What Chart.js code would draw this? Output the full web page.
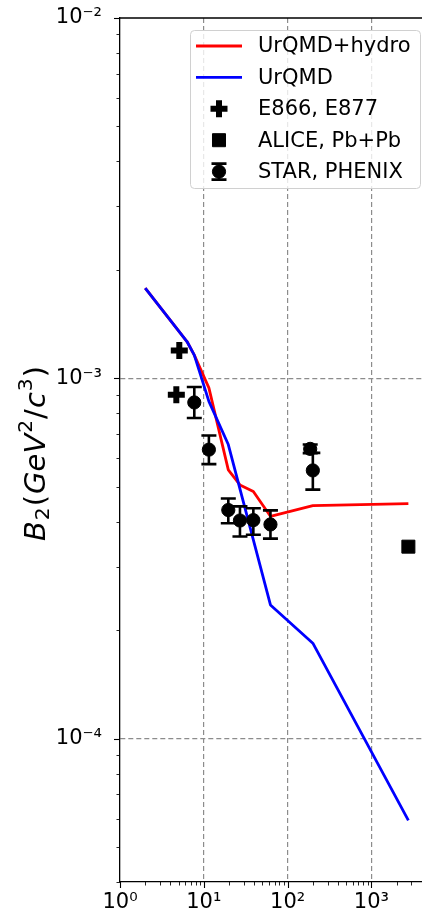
<!DOCTYPE html>
<html>
<head>
<meta charset="utf-8">
<title>B2 vs collision energy</title>
<script src="https://cdn.jsdelivr.net/npm/chart.js@4.4.1/dist/chart.umd.min.js"></script>
<style>
  html, body { margin: 0; padding: 0; background: #fff; overflow: hidden; }
  #wrap { position: relative; width: 422px; height: 918px; overflow: hidden; }
  #wrap canvas { position: absolute; left: 0; top: 0; }
</style>
</head>
<body>
<div id="wrap"><canvas id="chart" width="432" height="918"></canvas></div>
<script>
// collision energy sqrt(s_NN) in GeV, B2 in GeV^2/c^3
const hydroEnergy = [2, 6.3, 7.7, 11.5, 19.6, 27, 39, 62.4, 200, 2760]
const hydroB2 = [1.78e-3, 1.265e-3, 1.16e-3, 9.41e-4, 5.57e-4, 5.06e-4, 4.85e-4, 4.14e-4, 4.43e-4, 4.49e-4]

const urqmdEnergy = [2, 6.3, 7.7, 11.5, 19.6, 62.4, 200, 2760]
const urqmdB2 = [1.78e-3, 1.265e-3, 1.16e-3, 8.63e-4, 6.55e-4, 2.35e-4, 1.84e-4, 5.93e-5]

const agsEnergy = [5.1, 4.7]
const agsB2 = [1.194e-3, 9.0e-4]

const aliceEnergy = [2760]
const aliceB2 = [3.41e-4]

const rhicEnergy = [7.7, 11.5, 19.6, 27, 39, 62.4, 186, 200]
const rhicB2 = [8.57e-4, 6.34e-4, 4.31e-4, 4.03e-4, 4.04e-4, 3.93e-4, 6.37e-4, 5.55e-4]
const rhicLow = [7.76e-4, 5.78e-4, 3.96e-4, 3.64e-4, 3.68e-4, 3.59e-4, 6.2e-4, 4.91e-4]
const rhicHigh = [9.46e-4, 6.94e-4, 4.64e-4, 4.41e-4, 4.36e-4, 4.30e-4, 6.55e-4, 6.21e-4]

const xMajor = [1, 10, 100, 1000]
const xMajorLabels = ["10⁰", "10¹", "10²", "10³"]
const yMajor = [1e-4, 1e-3, 1e-2]
const yMajorLabels = ["10⁻⁴", "10⁻³", "10⁻²"]

const seriesLabels = ["UrQMD+hydro", "UrQMD", "E866, E877", "ALICE, Pb+Pb", "STAR, PHENIX"]

// y axis title: [text, style]  i = italic, n = upright, sub/sup = scripts
const yTitleParts = [["B", "i"], ["2", "sub"], ["(", "n"], ["GeV", "i"], ["2", "sup"], ["/", "n"], ["c", "i"], ["3", "sup"], [")", "n"]]

const X_MIN = 1, X_MAX = 5000, Y_MIN = 4e-5, Y_MAX = 1e-2
const FONT = "'DejaVu Sans', sans-serif"

function pts(xs, ys) {
  return xs.map((x, i) => ({ x, y: ys[i] }))
}

// majors plus 2..9 minors inside the limits
function logTicks(majors, min, max) {
  const out = []
  const decades = [majors[0] / 10, ...majors]
  decades.forEach((d) => {
    for (let k = 1; k <= 9; k++) {
      const v = k === 1 ? d : k * d
      if (v >= min * 0.999 && v <= max * 1.001) out.push(v)
    }
  })
  return out.sort((a, b) => a - b)
}

function isMajor(list, v) {
  return list.some((m) => Math.abs(v / m - 1) < 1e-9)
}

function drawErrorBar(ctx, xs, ys, x, lo, hi, cap) {
  const px = xs.getPixelForValue(x)
  const p1 = ys.getPixelForValue(lo)
  const p2 = ys.getPixelForValue(hi)
  ctx.beginPath()
  ctx.moveTo(px, p1); ctx.lineTo(px, p2)
  ctx.moveTo(px - cap, p1); ctx.lineTo(px + cap, p1)
  ctx.moveTo(px - cap, p2); ctx.lineTo(px + cap, p2)
  ctx.stroke()
}

const errorBars = {
  id: "errorBars",
  beforeDatasetDraw(chart, args) {
    if (args.meta.label !== seriesLabels[4]) return
    const ctx = chart.ctx
    ctx.save()
    ctx.strokeStyle = "#000"
    ctx.lineWidth = 2.6
    rhicEnergy.forEach((e, i) => {
      drawErrorBar(ctx, chart.scales.x, chart.scales.y, e, rhicLow[i], rhicHigh[i], 7.5)
    })
    ctx.restore()
  },
}

// outward tick marks and the top/right spines
const axisFrame = {
  id: "axisFrame",
  afterDraw(chart) {
    const ctx = chart.ctx
    const a = chart.chartArea
    const xs = chart.scales.x, ys = chart.scales.y
    ctx.save()
    ctx.strokeStyle = "#000"
    xs.ticks.forEach((t) => {
      const major = isMajor(xMajor, t.value)
      const p = Math.round(xs.getPixelForValue(t.value)) + 0.5
      ctx.lineWidth = major ? 1.1 : 0.85
      ctx.beginPath()
      ctx.moveTo(p, a.bottom)
      ctx.lineTo(p, a.bottom + (major ? 6 : 3.5))
      ctx.stroke()
    })
    ys.ticks.forEach((t) => {
      const major = isMajor(yMajor, t.value)
      const p = Math.round(ys.getPixelForValue(t.value)) + 0.5
      ctx.lineWidth = major ? 1.1 : 0.85
      ctx.beginPath()
      ctx.moveTo(a.left, p)
      ctx.lineTo(a.left - (major ? 6 : 3.5), p)
      ctx.stroke()
    })
    ctx.lineWidth = 1.3
    ctx.beginPath()
    ctx.moveTo(a.left, a.top)
    ctx.lineTo(a.right, a.top)
    ctx.lineTo(a.right, a.bottom)
    ctx.stroke()
    ctx.restore()
  },
}

const yTitle = {
  id: "yTitle",
  afterDraw(chart) {
    const ctx = chart.ctx
    const a = chart.chartArea
    const size = 29
    const fontFor = (style) => {
      const s = style === "sub" || style === "sup" ? size * 0.7 : size
      const it = style === "i" ? "italic " : ""
      return it + s + "px " + FONT
    }
    let total = 0
    const widths = yTitleParts.map(([t, st]) => {
      ctx.font = fontFor(st)
      const w = ctx.measureText(t).width + 1
      total += w
      return w
    })
    ctx.save()
    ctx.translate(45, (a.top + a.bottom) / 2 + 3)
    ctx.rotate(-Math.PI / 2)
    ctx.fillStyle = "#000"
    ctx.textBaseline = "alphabetic"
    let x = -total / 2
    yTitleParts.forEach(([t, st], i) => {
      ctx.font = fontFor(st)
      let dy = 0
      if (st === "sub") dy = size * 0.14
      if (st === "sup") dy = -size * 0.45
      ctx.fillText(t, x, dy)
      x += widths[i]
    })
    ctx.restore()
  },
}

const boxLegend = {
  id: "boxLegend",
  afterDraw(chart) {
    const ctx = chart.ctx
    const a = chart.chartArea
    const w = 230, h = 158
    const x0 = a.right - 10 - w, y0 = a.top + 12
    ctx.save()
    ctx.fillStyle = "rgba(255,255,255,0.8)"
    ctx.strokeStyle = "#d0d0d0"
    ctx.lineWidth = 1
    ctx.beginPath()
    ctx.roundRect(x0 + 0.5, y0 + 0.5, w, h, 4)
    ctx.fill()
    ctx.stroke()

    const sets = chart.data.datasets
    const mx = x0 + 29
    sets.forEach((ds, i) => {
      const y = y0 + 16 + i * 31.4
      if (ds.showLine) {
        ctx.strokeStyle = ds.borderColor
        ctx.lineWidth = ds.borderWidth
        ctx.beginPath()
        ctx.moveTo(x0 + 6, y)
        ctx.lineTo(x0 + 52, y)
        ctx.stroke()
      } else {
        if (ds.label === seriesLabels[4]) {
          ctx.strokeStyle = "#000"
          ctx.lineWidth = 2.6
          ctx.beginPath()
          ctx.moveTo(mx, y - 8); ctx.lineTo(mx, y + 8)
          ctx.moveTo(mx - 7.5, y - 8); ctx.lineTo(mx + 7.5, y - 8)
          ctx.moveTo(mx - 7.5, y + 8); ctx.lineTo(mx + 7.5, y + 8)
          ctx.stroke()
        }
        ctx.fillStyle = ds.backgroundColor
        ctx.strokeStyle = ds.borderColor
        ctx.lineWidth = ds.borderWidth
        Chart.helpers.drawPoint(ctx, {
          pointStyle: ds.pointStyle,
          radius: ds.pointRadius,
          rotation: 0,
          borderWidth: ds.borderWidth,
        }, mx, y)
      }
      ctx.fillStyle = "#000"
      ctx.font = "21px " + FONT
      ctx.textBaseline = "middle"
      ctx.fillText(ds.label, x0 + 68, y + 1)
    })
    ctx.restore()
  },
}

const gridColor = (majors, edge) => (c) =>
  c.tick && isMajor(majors, c.tick.value) && !isMajor([edge], c.tick.value) ? "#8c8c8c" : "rgba(0,0,0,0)"

new Chart(document.getElementById("chart"), {
  type: "scatter",
  data: {
    datasets: [
      {
        label: seriesLabels[0],
        data: pts(hydroEnergy, hydroB2),
        showLine: true,
        borderColor: "#ff0000",
        backgroundColor: "#ff0000",
        borderWidth: 2.8,
        pointRadius: 0,
        borderJoinStyle: "round",
        order: 5,
      },
      {
        label: seriesLabels[1],
        data: pts(urqmdEnergy, urqmdB2),
        showLine: true,
        borderColor: "#0000ff",
        backgroundColor: "#0000ff",
        borderWidth: 2.8,
        pointRadius: 0,
        borderJoinStyle: "round",
        order: 4,
      },
      {
        label: seriesLabels[2],
        data: pts(agsEnergy, agsB2),
        pointStyle: "cross",
        pointRadius: 8.5,
        borderWidth: 6,
        borderColor: "#000",
        backgroundColor: "#000",
        order: 3,
      },
      {
        label: seriesLabels[3],
        data: pts(aliceEnergy, aliceB2),
        pointStyle: "rect",
        pointRadius: 9.2,
        borderWidth: 1,
        borderColor: "#000",
        backgroundColor: "#000",
        order: 2,
      },
      {
        label: seriesLabels[4],
        data: pts(rhicEnergy, rhicB2),
        pointStyle: "circle",
        pointRadius: 6.6,
        borderWidth: 1,
        borderColor: "#000",
        backgroundColor: "#000",
        order: 1,
      },
    ],
  },
  options: {
    responsive: false,
    animation: false,
    events: [],
    layout: { autoPadding: false, padding: { top: 18, right: 2, left: 0, bottom: 0 } },
    plugins: {
      legend: { display: false },
      tooltip: { enabled: false },
    },
    scales: {
      x: {
        type: "logarithmic",
        min: X_MIN,
        max: X_MAX,
        afterBuildTicks: (s) => {
          s.ticks = logTicks(xMajor, X_MIN, X_MAX).map((v) => ({ value: v }))
        },
        afterFit: (s) => {
          s.height = 36
          s.paddingLeft = 0
          s.paddingRight = 0
        },
        ticks: {
          autoSkip: false,
          maxRotation: 0,
          padding: 8,
          color: "#000",
          font: { size: 21, family: FONT },
          callback: (v) => {
            const i = xMajor.findIndex((m) => Math.abs(v / m - 1) < 1e-9)
            return i >= 0 ? xMajorLabels[i] : ""
          },
        },
        grid: {
          drawTicks: false,
          color: gridColor(xMajor, X_MIN),
          lineWidth: 1.2,
        },
        border: { display: true, color: "#000", width: 1.3, dash: [5, 3] },
      },
      y: {
        type: "logarithmic",
        min: Y_MIN,
        max: Y_MAX,
        afterBuildTicks: (s) => {
          s.ticks = logTicks(yMajor, Y_MIN, Y_MAX).map((v) => ({ value: v }))
        },
        afterFit: (s) => {
          s.width = 120
          s.paddingTop = 0
          s.paddingBottom = 0
        },
        ticks: {
          autoSkip: false,
          padding: 18,
          color: "#000",
          font: { size: 21, family: FONT },
          callback: (v) => {
            const i = yMajor.findIndex((m) => Math.abs(v / m - 1) < 1e-9)
            return i >= 0 ? yMajorLabels[i] : ""
          },
        },
        grid: {
          drawTicks: false,
          color: gridColor(yMajor, Y_MAX),
          lineWidth: 1.2,
        },
        border: { display: true, color: "#000", width: 1.3, dash: [5, 3] },
      },
    },
  },
  plugins: [errorBars, axisFrame, yTitle, boxLegend],
})
</script>
</body>
</html>
